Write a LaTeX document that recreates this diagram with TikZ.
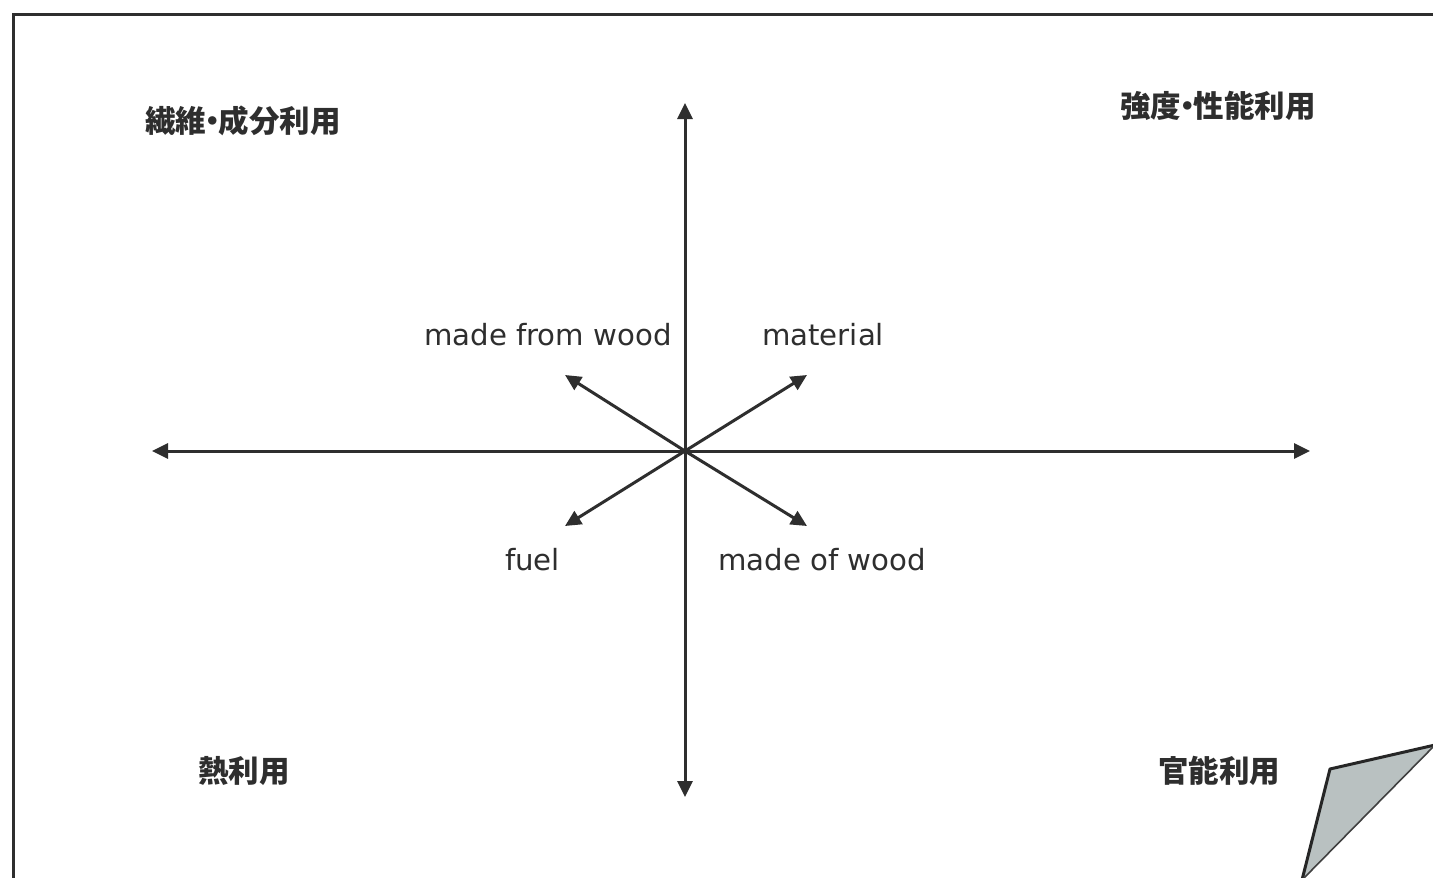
\documentclass[tikz,border=0pt]{standalone}
\usepackage{fontspec}
\setmainfont{DejaVu Sans}
\newfontfamily\jpfont{Noto Sans CJK JP}
\usetikzlibrary{arrows.meta}
\definecolor{ink}{HTML}{2E2E2E}
\definecolor{foldfill}{HTML}{B9C1C1}
\tikzset{
  tip/.tip={Triangle[length=16pt,width=15pt]},
  axis/.style={draw=ink, line width=3pt, -tip},
  biaxis/.style={draw=ink, line width=3pt, tip-tip},
  jplabel/.style={text=ink, font=\jpfont\bfseries\fontsize{30.5}{34}\selectfont, inner sep=0pt, anchor=base west},
  enlabel/.style={text=ink, font=\fontsize{29.2}{32}\selectfont, inner sep=0pt, anchor=base west},
  frame/.style={draw=ink, line width=3pt},
}
\begin{document}
\begin{tikzpicture}[x=1pt,y=-1pt]
\useasboundingbox (0,0) rectangle (1433,878);
\fill[white] (0,0) rectangle (1433,878);
% frame
\coordinate (f1) at (13,880);
\coordinate (f2) at (13,14);
\coordinate (f3) at (1435,14);
\draw[frame] (f1) -- (f2) -- (f3);
% folded corner
\coordinate (c1) at (1302,880);
\coordinate (c2) at (1330,769);
\coordinate (c3) at (1435,745);
\fill[foldfill] (c1) -- (c2) -- (c3) -- cycle;
\draw[line width=3pt, draw=black!85, line join=round] (c1) -- (c2) -- (c3);
\draw[line width=1.6pt, draw=black!75] (c3) -- (c1);
% axes
\coordinate (O) at (685,451);
\coordinate (T) at (685,103);
\coordinate (B) at (685,797);
\coordinate (L) at (152,451);
\coordinate (R) at (1310,451);
\coordinate (UL) at (565,375);
\coordinate (UR) at (807,375);
\coordinate (DL) at (565,526);
\coordinate (DR) at (807,526);
\draw[biaxis] (B) -- (T);
\draw[biaxis] (L) -- (R);
\draw[axis] (O) -- (UL);
\draw[axis] (O) -- (UR);
\draw[axis] (O) -- (DL);
\draw[axis] (O) -- (DR);
% labels
\node[jplabel] (q2) at (145,132) {繊維\kern-9pt・\kern-9pt成分利用};
\node[jplabel] (q1) at (1120,117) {強度\kern-9pt・\kern-9pt性能利用};
\node[jplabel] (q3) at (198,782) {熱利用};
\node[jplabel] (q4) at (1158,782) {官能利用};
\node[enlabel] (mfw) at (424,345) {made from wood};
\node[enlabel] (mat) at (762,345) {material};
\node[enlabel] (fuel) at (505,570) {fuel};
\node[enlabel] (mow) at (718,570) {made of wood};
\end{tikzpicture}
\end{document}
